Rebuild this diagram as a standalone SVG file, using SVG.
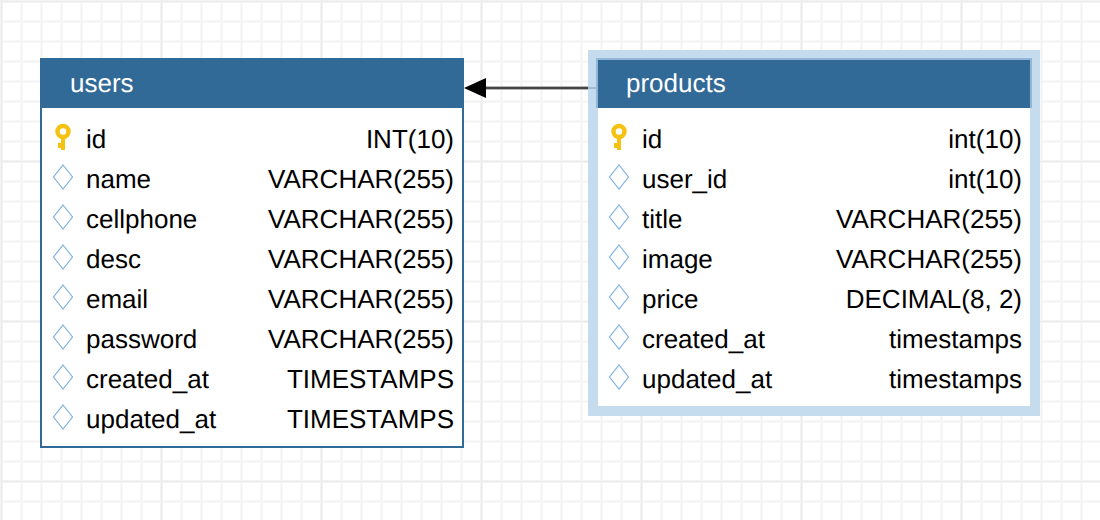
<svg xmlns="http://www.w3.org/2000/svg" width="1100" height="520" viewBox="0 0 1100 520">
  <style>
    text { font-family: "Liberation Sans", Arial, sans-serif; font-size: 26px; fill: #000; text-rendering: geometricPrecision; }
    .title { fill: #fff; }
    .type { text-anchor: end; }
    .body { fill: #fff; stroke: #316997; stroke-width: 2; }
    .head { fill: #316997; }
    .diamond { fill: #fff; stroke: #80b2e4; stroke-width: 1.2; }
    .halo { fill: none; stroke: #c5dcee; stroke-width: 10; }
    .edge { fill: none; stroke: #92b6d4; stroke-width: 2; }
  </style>
  <defs>
    <pattern id="minor" width="20" height="20" patternUnits="userSpaceOnUse">
      <rect x="0" y="0" width="3" height="20" fill="#f9f9f9"/>
      <rect x="0" y="0" width="20" height="3" fill="#f9f9f9"/>
      <rect x="1" y="0" width="1" height="20" fill="#f3f3f3"/>
      <rect x="0" y="1" width="20" height="1" fill="#f3f3f3"/>
    </pattern>
    <pattern id="major" width="160" height="160" patternUnits="userSpaceOnUse">
      <rect x="0" y="0" width="3" height="160" fill="#f3f3f3"/>
      <rect x="0" y="0" width="160" height="3" fill="#f3f3f3"/>
      <rect x="1" y="0" width="1" height="160" fill="#ebebeb"/>
      <rect x="0" y="1" width="160" height="1" fill="#ebebeb"/>
    </pattern>
    <symbol id="key" overflow="visible">
      <circle cx="9" cy="7.5" r="5.5" fill="none" stroke="#f5c211" stroke-width="4.5"/>
      <path d="M7 12h4v14h-4zM4 19h3v5h-3z" fill="#f5c211"/>
    </symbol>
    <symbol id="dia" overflow="visible">
      <path class="diamond" d="M10 1L19.5 13L10 25L0.5 13Z"/>
    </symbol>
  </defs>
  <rect width="1100" height="520" fill="#fff"/>
  <rect width="1100" height="520" fill="url(#minor)"/>
  <rect width="1100" height="520" fill="url(#major)"/>

  <g id="users">
    <rect class="body" x="41" y="59" width="422" height="388"/>
    <rect class="head" x="40" y="58" width="424" height="50"/>
    <text class="title" x="70" y="92">users</text>
    <use href="#key" x="54" y="124"/><text x="86" y="148">id</text><text class="type" x="454" y="148">INT(10)</text>
    <use href="#dia" x="53" y="164"/><text x="86" y="188">name</text><text class="type" x="454" y="188">VARCHAR(255)</text>
    <use href="#dia" x="53" y="204"/><text x="86" y="228">cellphone</text><text class="type" x="454" y="228">VARCHAR(255)</text>
    <use href="#dia" x="53" y="244"/><text x="86" y="268">desc</text><text class="type" x="454" y="268">VARCHAR(255)</text>
    <use href="#dia" x="53" y="284"/><text x="86" y="308">email</text><text class="type" x="454" y="308">VARCHAR(255)</text>
    <use href="#dia" x="53" y="324"/><text x="86" y="348">password</text><text class="type" x="454" y="348">VARCHAR(255)</text>
    <use href="#dia" x="53" y="364"/><text x="86" y="388">created_at</text><text class="type" x="454" y="388">TIMESTAMPS</text>
    <use href="#dia" x="53" y="404"/><text x="86" y="428">updated_at</text><text class="type" x="454" y="428">TIMESTAMPS</text>
  </g>

  <g id="products">
    <rect x="598" y="60" width="432" height="346" fill="#fff"/>
    <rect class="halo" x="593" y="55" width="442" height="356"/>
    <path class="edge" d="M597 108V59H1031V108"/>
    <rect class="head" x="598" y="60" width="432" height="48"/>
    <text class="title" x="626" y="92">products</text>
    <use href="#key" x="610" y="124"/><text x="642" y="148">id</text><text class="type" x="1022" y="148">int(10)</text>
    <use href="#dia" x="609" y="164"/><text x="642" y="188">user_id</text><text class="type" x="1022" y="188">int(10)</text>
    <use href="#dia" x="609" y="204"/><text x="642" y="228">title</text><text class="type" x="1022" y="228">VARCHAR(255)</text>
    <use href="#dia" x="609" y="244"/><text x="642" y="268">image</text><text class="type" x="1022" y="268">VARCHAR(255)</text>
    <use href="#dia" x="609" y="284"/><text x="642" y="308">price</text><text class="type" x="1022" y="308">DECIMAL(8, 2)</text>
    <use href="#dia" x="609" y="324"/><text x="642" y="348">created_at</text><text class="type" x="1022" y="348">timestamps</text>
    <use href="#dia" x="609" y="364"/><text x="642" y="388">updated_at</text><text class="type" x="1022" y="388">timestamps</text>
  </g>

  <g id="connectors">
    <path d="M588 88H484" fill="none" stroke="#b4b4b4" stroke-width="4"/>
    <path d="M588 88H484" fill="none" stroke="#444" stroke-width="2"/>
    <path d="M596 88H588" fill="none" stroke="#9dbbd5" stroke-width="2"/>
    <path d="M464 88L486 78V98Z" fill="#000"/>
  </g>
</svg>
